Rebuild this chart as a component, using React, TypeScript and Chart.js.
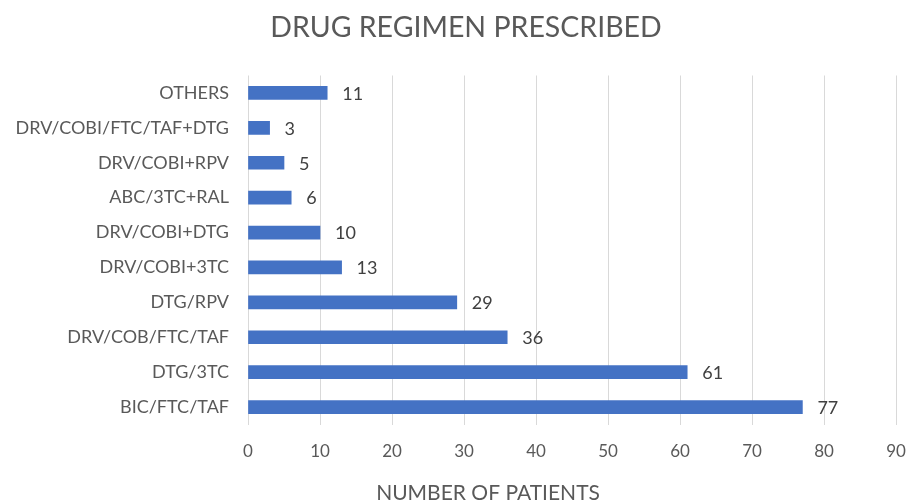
import React, { useEffect, useRef } from "react";
import { Chart, registerables } from "chart.js";

Chart.register(...registerables);

const categories = [
  "OTHERS",
  "DRV/COBI/FTC/TAF+DTG",
  "DRV/COBI+RPV",
  "ABC/3TC+RAL",
  "DRV/COBI+DTG",
  "DRV/COBI+3TC",
  "DTG/RPV",
  "DRV/COB/FTC/TAF",
  "DTG/3TC",
  "BIC/FTC/TAF",
];
const patients = [11, 3, 5, 6, 10, 13, 29, 36, 61, 77];
const chartTitle = "DRUG REGIMEN PRESCRIBED";
const xAxisTitle = "NUMBER OF PATIENTS";
const xMin = 0;
const xMax = 90;
const xStep = 10;

const FONT = "Lato";
const TEXT = "#595959";

const valueLabels = {
  id: "valueLabels",
  afterLayout(chart: any) {
    // shift the title block so it is centred like the reference
    if (chart.titleBlock) {
      chart.titleBlock.left = 36;
      chart.titleBlock.right = 896;
    }
  },
  afterDatasetsDraw(chart: any) {
    const ctx = chart.ctx;
    const meta = chart.getDatasetMeta(0);
    ctx.save();
    ctx.font = `18px ${FONT}`;
    ctx.fillStyle = "#404040";
    ctx.textAlign = "left";
    ctx.textBaseline = "middle";
    meta.data.forEach((el: any, i: number) => {
      ctx.fillText(String(patients[i]), el.x + 15, el.y + 1);
    });
    ctx.restore();
  },
};

const axisTitle = {
  id: "axisTitle",
  afterDraw(chart: any) {
    const ctx = chart.ctx;
    ctx.save();
    ctx.font = `21px ${FONT}`;
    ctx.fillStyle = TEXT;
    ctx.textAlign = "center";
    ctx.textBaseline = "alphabetic";
    ctx.fillText(xAxisTitle, 488, 500);
    ctx.restore();
  },
};

export default function App() {
  const ref = useRef<HTMLCanvasElement>(null);
  useEffect(() => {
    document.body.style.margin = "0";
    const chart = new Chart(ref.current!, {
      type: "bar",
      data: {
        labels: categories,
        datasets: [
          {
            data: patients,
            backgroundColor: "#4472c4",
            barThickness: 13,
          },
        ],
      },
      options: {
        indexAxis: "y",
        responsive: false,
        animation: false,
        layout: { padding: { left: 0, right: 13, top: 0, bottom: 0 } },
        plugins: {
          legend: { display: false },
          tooltip: { enabled: false },
          title: {
            display: true,
            text: chartTitle,
            color: TEXT,
            font: { family: FONT, size: 28.5, weight: "normal" },
            padding: { top: 10.4, bottom: 30.9 },
          },
        },
        scales: {
          x: {
            min: xMin,
            max: xMax,
            ticks: {
              stepSize: xStep,
              color: TEXT,
              font: { family: FONT, size: 17 },
              padding: 17,
            },
            grid: { color: "#d9d9d9", drawTicks: false, lineWidth: 1 },
            border: { display: false },
            afterFit(scale: any) {
              scale.height = 77.5;
              scale.paddingLeft = 0;
              scale.paddingRight = 0;
            },
          },
          y: {
            ticks: {
              color: TEXT,
              font: { family: FONT, size: 18 },
              padding: 19,
            },
            grid: { display: false, drawTicks: false },
            border: { display: false },
            afterFit(scale: any) {
              scale.width = 248;
              scale.paddingTop = 0;
              scale.paddingBottom = 0;
            },
          },
        },
      },
      plugins: [valueLabels, axisTitle],
    });
    return () => chart.destroy();
  }, []);
  return <canvas ref={ref} width={909} height={502} style={{ display: "block" }} />;
}
